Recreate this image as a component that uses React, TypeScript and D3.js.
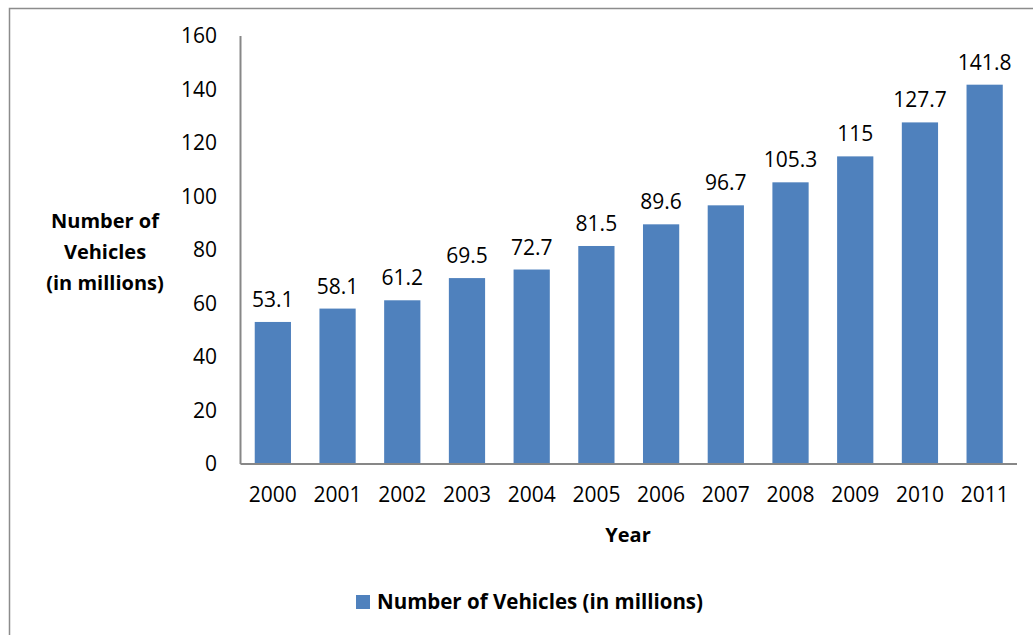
import React from "react";
import * as d3 from "d3";

const years = ["2000","2001","2002","2003","2004","2005","2006","2007","2008","2009","2010","2011"];
const vehicles = [53.1, 58.1, 61.2, 69.5, 72.7, 81.5, 89.6, 96.7, 105.3, 115, 127.7, 141.8];
const valueLabels = ["53.1","58.1","61.2","69.5","72.7","81.5","89.6","96.7","105.3","115","127.7","141.8"];
const yTicks = [0, 20, 40, 60, 80, 100, 120, 140, 160];
const seriesName = "Number of Vehicles (in millions)";
const yTitle = ["Number of", "Vehicles", "(in millions)"];
const xTitle = "Year";

export default function App() {
  const W = 1033, H = 635;
  const left = 240.5, right = 1017, top = 36, bottom = 464;
  const x = d3.scaleBand<string>().domain(years).range([left, right]).paddingInner(0.44).paddingOuter(0.22);
  const y = d3.scaleLinear().domain([0, 160]).range([bottom, top]);
  const font = "'Open Sans', sans-serif";
  const color = "#4F81BD";
  const axisColor = "#878787";
  return (
    <svg width={W} height={H} style={{ position: "absolute", left: 0, top: 0, background: "#fff" }} fontFamily={font}>
      <rect x={9.5} y={8.5} width={1100} height={700} fill="#fff" stroke="#8c8c8c" strokeWidth={1.5} />
      {years.map((yr, i) => (
        <rect key={yr} x={x(yr)} y={y(vehicles[i])} width={x.bandwidth()} height={y(0) - y(vehicles[i])} fill={color} />
      ))}
      {years.map((yr, i) => (
        <text key={"l" + yr} x={(x(yr) as number) + x.bandwidth() / 2} y={y(vehicles[i]) - 15} textAnchor="middle" fontSize={21} fill="#000">{valueLabels[i]}</text>
      ))}
      <line x1={left} x2={left} y1={top} y2={bottom} stroke={axisColor} strokeWidth={2} />
      <line x1={left} x2={right} y1={bottom} y2={bottom} stroke={axisColor} strokeWidth={2} />
      {yTicks.map((t) => (
        <text key={"t" + t} x={217} y={y(t)} dy="0.35em" textAnchor="end" fontSize={21} fill="#000">{t}</text>
      ))}
      {years.map((yr) => (
        <text key={"x" + yr} x={(x(yr) as number) + x.bandwidth() / 2} y={495} dy="0.35em" textAnchor="middle" fontSize={21} fill="#000">{yr}</text>
      ))}
      <text x={628} y={535} dy="0.35em" textAnchor="middle" fontSize={20} fontWeight="bold" fill="#000">{xTitle}</text>
      {yTitle.map((ln, i) => (
        <text key={ln} x={105} y={221 + i * 31} dy="0.35em" textAnchor="middle" fontSize={20} fontWeight="bold" fill="#000">{ln}</text>
      ))}
      <rect x={356} y={595} width={14} height={14} fill={color} />
      <text x={377} y={602} dy="0.35em" fontSize={20.5} fontWeight="bold" fill="#000">{seriesName}</text>
    </svg>
  );
}
